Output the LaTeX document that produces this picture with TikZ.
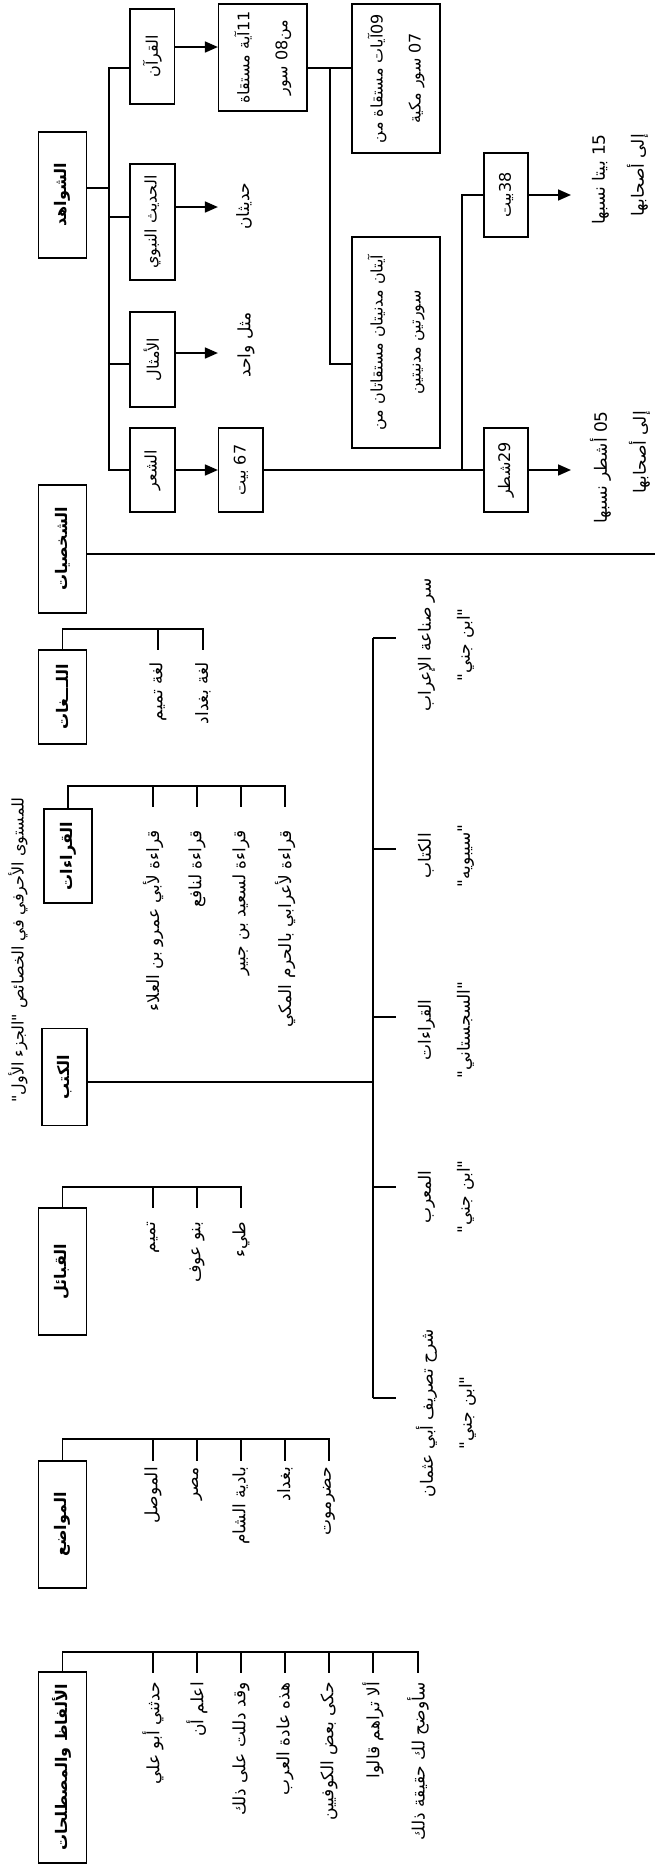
\documentclass[tikz,border=0pt]{standalone}
\usepackage{fontspec}
\usetikzlibrary{arrows.meta}
\TeXXeTstate=1
\newfontfamily\arabicfont[Script=Arabic]{DejaVu Sans}
\newcommand{\AR}[1]{\beginR #1\endR}
\newcommand{\arf}{\arabicfont\fontsize{17}{39}\selectfont}
\newcommand{\arfs}{\arabicfont\fontsize{16}{38}\selectfont}
\newcommand{\arfb}{\arabicfont\bfseries\fontsize{16}{20}\selectfont}
\begin{document}
\begin{tikzpicture}[x=1pt,y=-1pt,
  every node/.style={rotate=90, font=\arf, inner sep=1pt},
  hdr/.style={draw, line width=1.2pt, font=\arfb},
  box/.style={draw, line width=1.2pt, align=center, font=\arfs},
  sz/.style 2 args={minimum height=#1, minimum width=#2},
  conn/.style={line width=1.3pt},
  arr/.style={line width=1.7pt, -{Triangle[length=13pt,width=11pt]}},
  item/.style={anchor=east, inner sep=0pt},
]
\fill[white] (0,0) rectangle (655,1866);
\useasboundingbox (0,0) rectangle (655,1866);

% headers
\node[hdr, sz={48}{126}] (shawahid) at (62.5,195) {\AR{الشواهد}};
\node[hdr, sz={48}{128}] (shakh) at (62.25,549) {\AR{الشخصيات}};
\node[hdr, sz={48}{94}] (lughat) at (62.25,697) {\AR{اللـــغات}};
\node[hdr, sz={48}{94}] (qiraat) at (68,856) {\AR{القراءات}};
\node[hdr, sz={45}{97}] (kutub) at (64.5,1077) {\AR{الكتب}};
\node[hdr, sz={48}{127}] (qabail) at (62.25,1271.5) {\AR{القبائل}};
\node[hdr, sz={48}{127}] (mawadi) at (62.25,1524.5) {\AR{المواضع}};
\node[hdr, sz={48}{191}] (alfaz) at (62.25,1767.5) {\AR{الألفاظ والمصطلحات}};

% title
\node[font=\arabicfont\fontsize{16}{20}\selectfont] (title) at (18,950) {\AR{للمستوى الأحرفي في الخصائص "الجزء الأول"}};

% shawahid tree
\node[box, sz={44.6}{95}] (quran) at (152.3,56.5) {\AR{القرآن}};
\node[box, sz={45}{116}] (hadith) at (152.5,222) {\AR{الحديث النبوي}};
\node[box, sz={45}{95}] (amthal) at (152.5,359.5) {\AR{الأمثال}};
\node[box, sz={45}{84}] (shir) at (152.5,470) {\AR{الشعر}};

\node[box, sz={88.5}{107}] (b11) at (262.75,57.5) {\AR{11آية مستقاة}\\\AR{من08 سور}};
\node[box, sz={44.5}{84}] (b67) at (240.75,470) {\AR{67 بيت}};
\node[box, sz={88}{149}] (b09) at (396,78.5) {\AR{09آيات مستقاة من}\\\AR{07 سور مكية}};
\node[box, sz={88}{211}] (b2) at (396,342.5) {\AR{آيتان مدنيتان مستقاتان من}\\\AR{سورتين مدنيتين}};
\node[box, sz={44}{84}] (b38) at (506,195) {\AR{38بيت}};
\node[box, sz={44}{84}] (b29) at (506,470) {\AR{29شطر}};

\node (hadithan) at (244,206) {\AR{حديثان}};
\node (mathal) at (246,345) {\AR{مثل واحد}};
\node[align=right, anchor=east] (t15) at (620,133) {\AR{15 بيتا نسبها}\\\AR{إلى أصحابها}};
\node[align=right, anchor=east] (t05) at (620,410) {\AR{05 أشطر نسبها}\\\AR{إلى أصحابها}};

\coordinate (sb) at (109,0);
\coordinate (qb) at (330,0);
\coordinate (pb) at (462,0);
\coordinate (tipA) at (571,0);
\draw[conn] (shawahid.south |- 0,188) -- (sb |- 0,188);
\draw[conn] (quran.north |- 0,68) -| (sb |- shir) -- (shir.north);
\draw[conn] (sb |- 0,217) -- (hadith.north |- 0,217);
\draw[conn] (sb |- 0,364) -- (amthal.north |- 0,364);
\draw[arr] (quran.south |- 0,47) -- (b11.north |- 0,47);
\draw[arr] (hadith.south |- 0,207) -- (b11.north |- 0,207);
\draw[arr] (amthal.south |- 0,353) -- (b11.north |- 0,353);
\draw[arr] (shir.south) -- (b67.north);
\draw[conn] (b11.south |- 0,68) -- (b09.north |- 0,68);
\draw[conn] (qb |- 0,68) |- (b2.north |- 0,364);
\draw[conn] (b67.south) -- (b29.north);
\draw[conn] (pb |- b29) |- (b38.north);
\draw[arr] (b38.south) -- (tipA |- b38);
\draw[arr] (b29.south) -- (tipA |- b29);

% shakhsiyat line
\coordinate (rim) at (655,0);
\draw[conn] (shakh.south |- 0,554) -- (rim |- 0,554);

% lughat
\node[item] (lg1) at (158,662) {\AR{لغة تميم}};
\node[item] (lg2) at (203,662) {\AR{لغة بغداد}};
\draw[conn] (lughat.east) |- (lg2 |- 0,629) -- (lg2 |- 0,650);
\draw[conn] (lg1 |- 0,629) -- (lg1 |- 0,650);

% qiraat
\node[item] (q1) at (153,830) {\AR{قراءة لأبي عمرو بن العلاء}};
\node[item] (q2) at (197,830) {\AR{قراءة لنافع}};
\node[item] (q3) at (241,830) {\AR{قراءة لسعيد بن جبير}};
\node[item] (q4) at (285,830) {\AR{قراءة لأعرابي بالحرم المكي}};
\draw[conn] (qiraat.east) |- (q4 |- 0,786) -- (q4 |- 0,807);
\foreach \n in {q1,q2,q3} \draw[conn] (\n |- 0,786) -- (\n |- 0,807);

% kutub
\coordinate (kb) at (373,0);
\coordinate (kt) at (396,0);
\node[align=center] (k1) at (446,645) {\AR{سر صناعة الإعراب}\\\AR{"ابن جني"}};
\node[align=center] (k2) at (446,856) {\AR{الكتاب}\\\AR{"سيبويه"}};
\node[align=center] (k3) at (446,1030) {\AR{القراءات}\\\AR{"السجستاني"}};
\node[align=center] (k4) at (446,1197) {\AR{المعرب}\\\AR{"ابن جني"}};
\node[align=center] (k5) at (446,1413) {\AR{شرح تصريف أبي عثمان}\\\AR{"ابن جني"}};
\draw[conn] (kutub.south |- 0,1082) -- (kb |- 0,1082);
\draw[conn] (kb |- 0,638) -- (kb |- 0,1398);
\foreach \y in {638,849,1017,1187,1398} \draw[conn] (kb |- 0,\y) -- (kt |- 0,\y);

% qabail
\node[item] (qa1) at (153,1222) {\AR{تميم}};
\node[item] (qa2) at (197,1222) {\AR{بنو عوف}};
\node[item] (qa3) at (241,1222) {\AR{طيء}};
\draw[conn] (qabail.east) |- (qa3 |- 0,1187) -- (qa3 |- 0,1208);
\foreach \n in {qa1,qa2} \draw[conn] (\n |- 0,1187) -- (\n |- 0,1208);

% mawadi
\node[item] (m1) at (153,1467) {\AR{الموصل}};
\node[item] (m2) at (197,1467) {\AR{مصر}};
\node[item] (m3) at (241,1467) {\AR{بادية الشام}};
\node[item] (m4) at (285,1467) {\AR{بغداد}};
\node[item] (m5) at (329,1467) {\AR{حضرموت}};
\draw[conn] (mawadi.east) |- (m5 |- 0,1439) -- (m5 |- 0,1461);
\foreach \n in {m1,m2,m3,m4} \draw[conn] (\n |- 0,1439) -- (\n |- 0,1461);

% alfaz
\node[item] (a1) at (153,1682) {\AR{حدثني أبو علي}};
\node[item] (a2) at (197,1682) {\AR{اعلم أن}};
\node[item] (a3) at (241,1682) {\AR{وقد دللت على ذلك}};
\node[item] (a4) at (285,1682) {\AR{هذه عادة العرب}};
\node[item] (a5) at (329,1682) {\AR{حكى بعض الكوفيين}};
\node[item] (a6) at (373,1682) {\AR{ألا تراهم قالوا}};
\node[item] (a7) at (418,1682) {\AR{سأوضح لك حقيقة ذلك}};
\draw[conn] (alfaz.east) |- (a7 |- 0,1652) -- (a7 |- 0,1673);
\foreach \n in {a1,a2,a3,a4,a5,a6} \draw[conn] (\n |- 0,1652) -- (\n |- 0,1673);
\end{tikzpicture}
\end{document}
